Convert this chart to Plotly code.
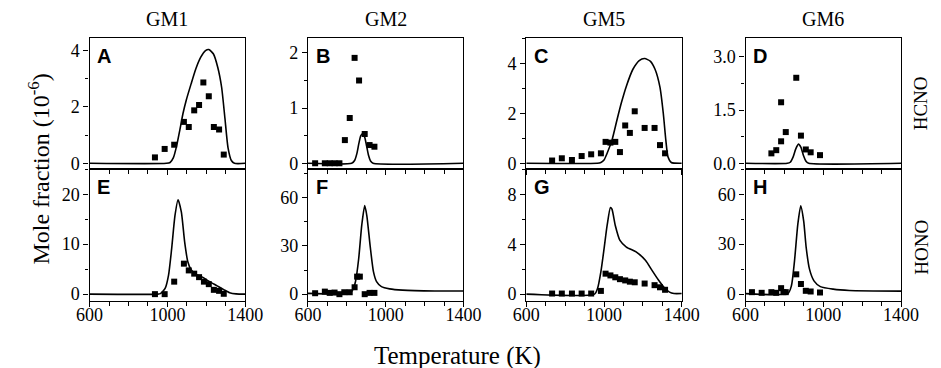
import plotly.graph_objects as go

W, H = 941, 368

# ---------------- data ----------------
# GM1 - HCNO (A)
A_exp_T = [936, 986, 1035, 1085, 1110, 1138, 1163, 1185, 1213, 1239, 1266, 1290]
A_exp = [0.21, 0.51, 0.66, 1.47, 1.29, 1.88, 2.07, 2.87, 2.38, 1.29, 1.20, 0.31]
A_sim_T = [600, 995, 1014, 1031, 1047, 1064, 1080, 1097, 1122, 1146, 1171, 1196, 1213,
           1237, 1259, 1279, 1296, 1312, 1329, 1345, 1400]
A_sim = [0, 0, 0.03, 0.2, 0.6, 1.18, 1.76, 2.24, 2.82, 3.35, 3.76, 4.0, 4.04,
         3.88, 3.41, 2.7, 1.6, 0.55, 0.1, 0, 0]

# GM2 - HCNO (B)
B_exp_T = [637, 687, 712, 737, 762, 790, 815, 840, 863, 892, 917, 942]
B_exp = [0, 0, 0, 0, 0, 0.42, 0.82, 1.91, 1.50, 0.53, 0.33, 0.30]
B_sim_T = [600, 825, 840, 852, 862, 872, 882, 892, 902, 912, 922, 935, 1400]
B_sim = [0, 0, 0.05, 0.18, 0.36, 0.5, 0.54, 0.47, 0.31, 0.14, 0.04, 0, 0]

# GM5 - HCNO (C)
C_exp_T = [733, 783, 835, 885, 934, 984, 1008, 1033, 1058, 1082, 1109, 1133, 1158,
           1209, 1260, 1288, 1314]
C_exp = [0.11, 0.2, 0.13, 0.29, 0.36, 0.4, 0.86, 0.83, 0.86, 0.45, 1.52, 1.22, 2.09,
         1.42, 1.42, 0.73, 0.4]
C_sim_T = [600, 965, 984, 1000, 1016, 1041, 1066, 1090, 1115, 1148, 1181, 1209, 1239,
           1263, 1288, 1305, 1318, 1329, 1346, 1400]
C_sim = [0, 0, 0.03, 0.13, 0.4, 0.93, 1.72, 2.45, 3.1, 3.77, 4.13, 4.21, 4.1,
         3.77, 3.05, 2.0, 0.93, 0.26, 0.03, 0]

# GM6 - HCNO (D)
D_exp_T = [733, 758, 783, 783, 807, 861, 885, 910, 935, 983]
D_exp = [0.28, 0.37, 1.72, 0.62, 0.88, 2.41, 0.78, 0.39, 0.31, 0.23]
D_sim_T = [600, 815, 830, 845, 858, 872, 885, 898, 912, 925, 1400]
D_sim = [0, 0, 0.03, 0.18, 0.4, 0.54, 0.45, 0.22, 0.05, 0, 0]

# GM1 - HONO (E)
E_exp_T = [936, 986, 1035, 1085, 1110, 1138, 1163, 1188, 1213, 1239, 1266, 1290]
E_exp = [0, 0, 2.5, 6.1, 4.75, 4.1, 3.4, 2.5, 2.0, 0.86, 0.66, 0.07]
E_sim_T = [600, 950, 964, 989, 1006, 1022, 1039, 1055, 1072, 1089, 1105, 1122, 1146,
           1180, 1213, 1254, 1290, 1320, 1353, 1400]
E_sim = [0, 0, 0.1, 1.2, 3.8, 9.1, 15.7, 18.9, 16.4, 10.4, 6.5, 4.9, 4.0,
         3.4, 2.6, 1.7, 0.9, 0.3, 0.05, 0]

# GM2 - HONO (F)
F_exp_T = [637, 687, 712, 737, 762, 787, 815, 840, 853, 867, 892, 917, 942]
F_exp = [0.6, 1.6, 0.8, 1.0, 0.0, 1.2, 1.2, 4.3, 10.9, 10.9, 0.0, 0.8, 0.8]
F_sim_T = [600, 815, 832, 845, 861, 877, 892, 903, 920, 937, 953, 978, 1020, 1087, 1253, 1400]
F_sim = [0.5, 0.6, 3, 8, 22, 43, 55, 48.7, 30, 14, 7.8, 4.7, 3.3, 2.5, 2.0, 2.0]

# GM5 - HONO (G)
G_exp_T = [733, 783, 835, 885, 934, 984, 1008, 1033, 1058, 1082, 1109, 1133, 1158,
           1209, 1260, 1288, 1314]
G_exp = [0.05, 0.05, 0.05, 0.05, 0.05, 0.26, 1.64, 1.5, 1.35, 1.2, 1.1, 1.0, 0.95,
         0.85, 0.72, 0.55, 0.35]
G_sim_T = [600, 951, 967, 984, 1000, 1016, 1033, 1041, 1058, 1082, 1115, 1165, 1214,
           1247, 1280, 1313, 1337, 1360, 1400]
G_sim = [0, 0, 0.47, 1.8, 3.6, 5.5, 6.94, 6.8, 5.5, 4.3, 3.77, 3.38, 2.7,
         1.9, 1.13, 0.47, 0.16, 0.05, 0.05]

# GM6 - HONO (H)
H_exp_T = [633, 683, 733, 758, 783, 795, 807, 861, 885, 910, 935, 983]
H_exp = [1.2, 0.8, 1.2, 0.8, 3.6, 1.2, 1.2, 11.9, 6.1, 2.0, 1.6, 1.0]
H_sim_T = [600, 819, 836, 852, 869, 884, 899, 912, 929, 952, 985, 1051, 1134, 1400]
H_sim = [0.3, 0.5, 5, 20, 42, 53, 44, 28, 15, 8, 4.5, 3, 2.2, 1.8]

col_titles = ["GM1", "GM2", "GM5", "GM6"]
row_titles = ["HCNO", "HONO"]
letters = ["A", "B", "C", "D", "E", "F", "G", "H"]
x_ticks = [600, 1000, 1400]

# ---------------- layout geometry ----------------
col_left = [70, 296, 522, 749]
col_w = 161
row_top = [30, 163]
row_h = 133

panels = [
    (A_exp_T, A_exp, A_sim_T, A_sim, [-0.21, 4.46], 2, 1, None),
    (B_exp_T, B_exp, B_sim_T, B_sim, [-0.108, 2.276], 1, 0.5, None),
    (C_exp_T, C_exp, C_sim_T, C_sim, [-0.24, 5.05], 2, 1, None),
    (D_exp_T, D_exp, D_sim_T, D_sim, [-0.167, 3.54], 1.5, 0.75, ".1f"),
    (E_exp_T, E_exp, E_sim_T, E_sim, [-1.33, 25.0], 10, 5, None),
    (F_exp_T, F_exp, F_sim_T, F_sim, [-4.1, 77.6], 30, 15, None),
    (G_exp_T, G_exp, G_sim_T, G_sim, [-0.53, 10.0], 4, 2, None),
    (H_exp_T, H_exp, H_sim_T, H_sim, [-3.98, 75.0], 30, 15, None),
]

SERIF = "Liberation Serif"
SANS = "Liberation Sans"

fig = go.Figure()
layout = {}
annotations = []

for i, (ex, ey, sx, sy, yr, dt, mdt, fmt) in enumerate(panels):
    r, c = divmod(i, 4)
    n = "" if i == 0 else str(i + 1)
    xref, yref = "x" + n, "y" + n
    x0 = col_left[c] / W
    x1 = (col_left[c] + col_w) / W
    y1 = 1 - row_top[r] / H
    y0 = 1 - (row_top[r] + row_h) / H

    fig.add_trace(go.Scatter(x=sx, y=sy, mode="lines", xaxis=xref, yaxis=yref,
                             line=dict(color="black", width=1.6, shape="spline", smoothing=0.6),
                             showlegend=False, hoverinfo="skip", cliponaxis=True))
    fig.add_trace(go.Scatter(x=ex, y=ey, mode="markers", xaxis=xref, yaxis=yref,
                             marker=dict(symbol="square", size=6, color="black"),
                             showlegend=False, cliponaxis=False))

    layout["xaxis" + n] = dict(
        domain=[x0, x1], anchor=yref, range=[600, 1400],
        tickvals=x_ticks, showticklabels=(r == 1),
        ticks="outside", ticklen=5, tickwidth=1.2, tickcolor="black",
        minor=dict(dtick=100, tick0=600, ticks="outside", ticklen=4, tickwidth=1.2, tickcolor="black"),
        showline=True, linecolor="black", linewidth=1.3, mirror=True,
        showgrid=False, zeroline=False, ticklabelstandoff=-8,
        tickfont=dict(family=SERIF, size=18, color="black"),
    )
    layout["yaxis" + n] = dict(
        domain=[y0, y1], anchor=xref, range=yr,
        tick0=0, dtick=dt, tickformat=fmt,
        ticks="outside", ticklen=5, tickwidth=1.2, tickcolor="black",
        minor=dict(dtick=mdt, tick0=0, ticks="outside", ticklen=3, tickwidth=1.2, tickcolor="black"),
        showline=True, linecolor="black", linewidth=1.3, mirror=True,
        showgrid=False, zeroline=False,
        tickfont=dict(family=SERIF, size=18, color="black"),
    )
    annotations.append(dict(text="<b>%s</b>" % letters[i], xref="paper", yref="paper",
                            x=(col_left[c] + 6) / W, y=1 - (row_top[r] + 5) / H,
                            xanchor="left", yanchor="top", showarrow=False,
                            font=dict(family=SANS, size=20, color="black")))

for c, t in enumerate(col_titles):
    annotations.append(dict(text=t, xref="paper", yref="paper",
                            x=(col_left[c] + col_w / 2) / W, y=1 - 11 / H,
                            xanchor="center", yanchor="middle", showarrow=False,
                            font=dict(family=SERIF, size=20, color="black")))

for r, t in enumerate(row_titles):
    annotations.append(dict(text=t, xref="paper", yref="paper",
                            x=931 / W, y=1 - [96, 242][r] / H, textangle=-90,
                            xanchor="center", yanchor="middle", showarrow=False,
                            font=dict(family=SERIF, size=19, color="black")))

annotations.append(dict(text="Mole fraction (10<sup>-6</sup>)", xref="paper", yref="paper",
                        x=18 / W, y=1 - 163 / H, textangle=-90,
                        xanchor="center", yanchor="middle", showarrow=False,
                        font=dict(family=SERIF, size=24, color="black")))
annotations.append(dict(text="Temperature (K)", xref="paper", yref="paper",
                        x=451 / W, y=1 - 352 / H,
                        xanchor="center", yanchor="middle", showarrow=False,
                        font=dict(family=SERIF, size=25, color="black")))

fig.update_layout(width=W, height=H, margin=dict(l=0, r=0, t=0, b=0),
                  paper_bgcolor="white", plot_bgcolor="white",
                  annotations=annotations, **layout)

fig.write_html("out.html")
